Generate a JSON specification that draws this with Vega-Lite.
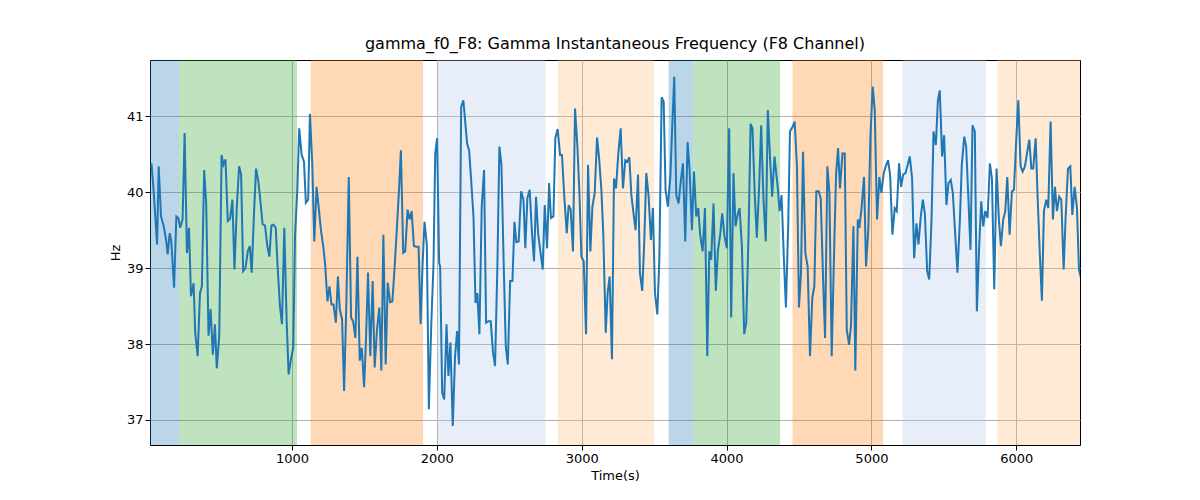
{
  "$schema": "https://vega.github.io/schema/vega-lite/v6.json",
  "width": 930,
  "height": 385,
  "autosize": "none",
  "padding": {"left": 150, "top": 60, "right": 120, "bottom": 55},
  "config": {
    "font": "DejaVu Sans",
    "view": {"stroke": "black", "strokeWidth": 1},
    "axis": {"domain": false, "grid": true, "gridColor": "#b0b0b0", "gridWidth": 1, "zindex": 1,
      "labelFontSize": 13, "labelColor": "black", "tickColor": "black", "tickSize": 5,
      "titleFontSize": 13, "titleFontWeight": "normal", "titleColor": "black"}
  },
  "title": {"text": "gamma_f0_F8: Gamma Instantaneous Frequency (F8 Channel)", "fontSize": 16, "fontWeight": "normal", "offset": 8},
  "layer": [
    {
      "data": {"values": [
        {"start": 20, "end": 220, "kind": "A"},
        {"start": 220, "end": 1035, "kind": "B"},
        {"start": 1130, "end": 1905, "kind": "C"},
        {"start": 2000, "end": 2750, "kind": "D"},
        {"start": 2835, "end": 3500, "kind": "E"},
        {"start": 3600, "end": 3770, "kind": "A"},
        {"start": 3770, "end": 4370, "kind": "B"},
        {"start": 4455, "end": 5080, "kind": "C"},
        {"start": 5215, "end": 5790, "kind": "D"},
        {"start": 5870, "end": 6440, "kind": "E"}
      ]},
      "mark": {"type": "rect", "clip": true},
      "encoding": {
        "x": {"field": "start", "type": "quantitative"},
        "x2": {"field": "end"},
        "color": {"field": "kind", "type": "nominal", "legend": null,
          "scale": {"domain": ["A", "B", "C", "D", "E"],
            "range": ["rgba(31,119,180,0.3)", "rgba(44,160,44,0.3)", "rgba(255,127,14,0.3)", "rgba(174,199,232,0.3)", "rgba(255,187,120,0.3)"]}}
      }
    },
    {
      "data": {"values": [
        {"t":30,"hz":40.38},{"t":46,"hz":39.99},{"t":69,"hz":39.31},{"t":80,"hz":40.34},{"t":96,"hz":39.68},{"t":115,"hz":39.55},{"t":131,"hz":39.37},{"t":142,"hz":39.18},{"t":156,"hz":39.46},{"t":167,"hz":39.35},{"t":186,"hz":38.74},{"t":202,"hz":39.68},{"t":216,"hz":39.66},{"t":229,"hz":39.53},{"t":245,"hz":39.64},{"t":259,"hz":40.78},{"t":275,"hz":39.2},{"t":289,"hz":39.53},{"t":303,"hz":38.63},{"t":321,"hz":38.8},{"t":332,"hz":38.15},{"t":349,"hz":37.84},{"t":365,"hz":38.67},{"t":378,"hz":38.76},{"t":394,"hz":40.29},{"t":408,"hz":39.85},{"t":424,"hz":38.11},{"t":438,"hz":38.46},{"t":454,"hz":37.86},{"t":468,"hz":38.26},{"t":481,"hz":37.68},{"t":498,"hz":38.11},{"t":514,"hz":40.49},{"t":527,"hz":40.36},{"t":541,"hz":40.43},{"t":557,"hz":39.62},{"t":573,"hz":39.65},{"t":589,"hz":39.9},{"t":603,"hz":38.98},{"t":619,"hz":39.79},{"t":635,"hz":40.34},{"t":649,"hz":40.23},{"t":663,"hz":38.96},{"t":679,"hz":39.0},{"t":695,"hz":39.22},{"t":709,"hz":39.29},{"t":722,"hz":38.94},{"t":738,"hz":39.72},{"t":752,"hz":40.31},{"t":768,"hz":40.14},{"t":784,"hz":39.85},{"t":797,"hz":39.58},{"t":814,"hz":39.56},{"t":830,"hz":39.29},{"t":844,"hz":39.15},{"t":858,"hz":39.56},{"t":872,"hz":39.57},{"t":888,"hz":39.53},{"t":901,"hz":39.02},{"t":917,"hz":38.5},{"t":931,"hz":38.26},{"t":947,"hz":39.53},{"t":963,"hz":38.32},{"t":977,"hz":37.6},{"t":993,"hz":37.8},{"t":1009,"hz":37.95},{"t":1021,"hz":39.42},{"t":1037,"hz":40.03},{"t":1050,"hz":40.84},{"t":1067,"hz":40.49},{"t":1083,"hz":40.4},{"t":1096,"hz":39.86},{"t":1112,"hz":39.9},{"t":1124,"hz":41.03},{"t":1140,"hz":40.38},{"t":1154,"hz":39.35},{"t":1170,"hz":40.07},{"t":1186,"hz":39.77},{"t":1200,"hz":39.5},{"t":1216,"hz":39.29},{"t":1229,"hz":39.05},{"t":1245,"hz":38.56},{"t":1259,"hz":38.76},{"t":1273,"hz":38.52},{"t":1287,"hz":38.52},{"t":1303,"hz":38.28},{"t":1317,"hz":38.89},{"t":1330,"hz":38.46},{"t":1346,"hz":38.32},{"t":1360,"hz":37.38},{"t":1376,"hz":38.58},{"t":1392,"hz":40.2},{"t":1408,"hz":38.35},{"t":1422,"hz":38.3},{"t":1438,"hz":38.08},{"t":1452,"hz":39.15},{"t":1468,"hz":37.78},{"t":1482,"hz":37.95},{"t":1498,"hz":37.43},{"t":1511,"hz":38.06},{"t":1525,"hz":38.94},{"t":1541,"hz":37.84},{"t":1557,"hz":38.83},{"t":1571,"hz":37.69},{"t":1587,"hz":38.19},{"t":1603,"hz":38.48},{"t":1617,"hz":37.65},{"t":1631,"hz":39.44},{"t":1647,"hz":37.73},{"t":1661,"hz":38.81},{"t":1677,"hz":38.55},{"t":1693,"hz":38.56},{"t":1709,"hz":39.02},{"t":1725,"hz":39.55},{"t":1739,"hz":40.03},{"t":1752,"hz":40.55},{"t":1768,"hz":39.2},{"t":1782,"hz":39.22},{"t":1798,"hz":39.77},{"t":1812,"hz":39.64},{"t":1826,"hz":39.75},{"t":1842,"hz":39.29},{"t":1858,"hz":39.28},{"t":1874,"hz":39.28},{"t":1888,"hz":38.26},{"t":1901,"hz":39.02},{"t":1915,"hz":39.61},{"t":1931,"hz":39.31},{"t":1945,"hz":37.14},{"t":1961,"hz":38.21},{"t":1977,"hz":39.05},{"t":1989,"hz":40.51},{"t":2002,"hz":40.71},{"t":2016,"hz":39.07},{"t":2023,"hz":39.02},{"t":2037,"hz":37.36},{"t":2051,"hz":37.27},{"t":2067,"hz":38.26},{"t":2080,"hz":37.58},{"t":2094,"hz":38.02},{"t":2110,"hz":36.92},{"t":2126,"hz":37.84},{"t":2140,"hz":38.17},{"t":2153,"hz":37.73},{"t":2168,"hz":41.12},{"t":2183,"hz":41.21},
        {"t":2209,"hz":40.64},{"t":2223,"hz":40.55},{"t":2237,"hz":40.16},{"t":2253,"hz":39.68},{"t":2267,"hz":38.54},{"t":2280,"hz":38.67},{"t":2294,"hz":38.13},{"t":2310,"hz":39.81},{"t":2326,"hz":40.29},{"t":2340,"hz":38.28},{"t":2356,"hz":38.3},{"t":2372,"hz":38.3},{"t":2388,"hz":37.89},{"t":2402,"hz":37.71},{"t":2418,"hz":39.02},{"t":2432,"hz":40.6},{"t":2446,"hz":40.36},{"t":2462,"hz":39.02},{"t":2476,"hz":37.97},{"t":2490,"hz":37.73},{"t":2506,"hz":38.83},{"t":2522,"hz":38.83},{"t":2536,"hz":39.61},{"t":2549,"hz":39.34},{"t":2565,"hz":39.35},{"t":2582,"hz":40.01},{"t":2598,"hz":39.9},{"t":2611,"hz":39.26},{"t":2625,"hz":39.92},{"t":2641,"hz":40.03},{"t":2657,"hz":39.46},{"t":2671,"hz":39.09},{"t":2685,"hz":39.94},{"t":2699,"hz":39.46},{"t":2715,"hz":39.22},{"t":2731,"hz":38.98},{"t":2745,"hz":39.83},{"t":2761,"hz":39.26},{"t":2775,"hz":40.12},{"t":2788,"hz":39.66},{"t":2805,"hz":39.68},{"t":2818,"hz":40.71},{"t":2834,"hz":40.83},{"t":2851,"hz":40.49},{"t":2864,"hz":40.49},{"t":2880,"hz":39.94},{"t":2897,"hz":39.46},{"t":2910,"hz":39.83},{"t":2924,"hz":39.77},{"t":2940,"hz":39.22},{"t":2954,"hz":41.1},{"t":2970,"hz":40.62},{"t":2984,"hz":40.01},{"t":2998,"hz":39.15},{"t":3014,"hz":39.09},{"t":3030,"hz":38.13},{"t":3044,"hz":40.36},{"t":3060,"hz":39.22},{"t":3074,"hz":39.81},{"t":3090,"hz":39.99},{"t":3106,"hz":40.72},{"t":3120,"hz":40.45},{"t":3136,"hz":40.03},{"t":3149,"hz":39.46},{"t":3166,"hz":38.15},{"t":3179,"hz":38.67},{"t":3193,"hz":38.89},{"t":3209,"hz":37.8},{"t":3223,"hz":40.18},{"t":3237,"hz":40.05},{"t":3253,"hz":40.51},{"t":3269,"hz":40.84},{"t":3285,"hz":40.05},{"t":3301,"hz":40.42},{"t":3315,"hz":40.4},{"t":3329,"hz":40.46},{"t":3343,"hz":39.96},{"t":3359,"hz":39.7},{"t":3372,"hz":39.5},{"t":3389,"hz":40.23},{"t":3402,"hz":38.94},{"t":3418,"hz":38.7},{"t":3432,"hz":39.35},{"t":3446,"hz":40.25},{"t":3462,"hz":39.94},{"t":3478,"hz":39.37},{"t":3492,"hz":39.79},{"t":3506,"hz":38.67},{"t":3522,"hz":38.39},{"t":3536,"hz":39.11},{"t":3552,"hz":41.25},{"t":3566,"hz":41.19},{"t":3579,"hz":40.03},{"t":3595,"hz":39.81},{"t":3612,"hz":40.2},{"t":3625,"hz":40.86},{"t":3639,"hz":41.52},{"t":3653,"hz":39.96},{"t":3669,"hz":39.85},{"t":3685,"hz":40.16},{"t":3699,"hz":40.38},{"t":3715,"hz":39.35},{"t":3731,"hz":40.66},{"t":3745,"hz":40.29},{"t":3761,"hz":39.5},{"t":3775,"hz":40.27},{"t":3791,"hz":39.68},{"t":3805,"hz":39.79},{"t":3818,"hz":39.44},{"t":3835,"hz":39.22},{"t":3851,"hz":39.79},{"t":3867,"hz":37.84},{"t":3881,"hz":39.22},{"t":3894,"hz":39.11},{"t":3910,"hz":39.85},{"t":3926,"hz":38.7},{"t":3940,"hz":39.22},{"t":3956,"hz":39.44},{"t":3970,"hz":39.72},{"t":3986,"hz":39.42},{"t":4002,"hz":39.26},{"t":4018,"hz":40.84},{"t":4032,"hz":38.35},{"t":4048,"hz":40.25},{"t":4062,"hz":39.55},{"t":4076,"hz":39.7},{"t":4090,"hz":39.79},{"t":4106,"hz":39.29},{"t":4122,"hz":38.13},{"t":4136,"hz":38.28},{"t":4152,"hz":39.46},{"t":4166,"hz":40.9},{"t":4179,"hz":40.84},{"t":4195,"hz":39.96},{"t":4209,"hz":39.4},{"t":4225,"hz":40.07},{"t":4239,"hz":40.88},{"t":4255,"hz":39.9},{"t":4271,"hz":39.35},{"t":4285,"hz":41.08},{"t":4301,"hz":40.42},{"t":4315,"hz":39.94},{"t":4331,"hz":40.47},
        {"t":4353,"hz":40.07},{"t":4366,"hz":39.75},{"t":4380,"hz":39.96},{"t":4396,"hz":39.11},{"t":4410,"hz":38.48},{"t":4426,"hz":39.59},{"t":4438,"hz":40.8},{"t":4456,"hz":40.86},{"t":4470,"hz":40.93},{"t":4486,"hz":40.34},{"t":4500,"hz":38.48},{"t":4514,"hz":38.94},{"t":4528,"hz":40.53},{"t":4544,"hz":39.2},{"t":4560,"hz":39.02},{"t":4576,"hz":37.84},{"t":4592,"hz":38.61},{"t":4606,"hz":38.76},{"t":4620,"hz":40.01},{"t":4636,"hz":40.01},{"t":4650,"hz":39.92},{"t":4666,"hz":38.89},{"t":4680,"hz":38.08},{"t":4696,"hz":40.34},{"t":4710,"hz":39.99},{"t":4726,"hz":37.84},{"t":4740,"hz":39.02},{"t":4756,"hz":40.23},{"t":4770,"hz":40.58},{"t":4783,"hz":40.05},{"t":4800,"hz":40.51},{"t":4816,"hz":40.51},{"t":4830,"hz":38.19},{"t":4846,"hz":37.99},{"t":4859,"hz":38.24},{"t":4876,"hz":39.55},{"t":4889,"hz":37.65},{"t":4906,"hz":39.64},{"t":4917,"hz":39.53},{"t":4933,"hz":39.81},{"t":4949,"hz":40.2},{"t":4963,"hz":39.02},{"t":4979,"hz":39.53},{"t":4993,"hz":40.73},{"t":5009,"hz":41.39},{"t":5023,"hz":41.08},{"t":5039,"hz":39.64},{"t":5055,"hz":40.2},{"t":5069,"hz":39.99},{"t":5085,"hz":40.25},{"t":5099,"hz":40.34},{"t":5115,"hz":40.42},{"t":5129,"hz":40.23},{"t":5145,"hz":39.44},{"t":5161,"hz":39.79},{"t":5175,"hz":39.75},{"t":5191,"hz":40.38},{"t":5205,"hz":40.07},{"t":5219,"hz":40.23},{"t":5235,"hz":40.25},{"t":5251,"hz":40.36},{"t":5265,"hz":40.47},{"t":5281,"hz":40.18},{"t":5295,"hz":39.13},{"t":5311,"hz":39.59},{"t":5325,"hz":39.31},{"t":5341,"hz":39.68},{"t":5355,"hz":39.9},{"t":5369,"hz":39.72},{"t":5385,"hz":38.96},{"t":5399,"hz":38.85},{"t":5415,"hz":39.64},{"t":5429,"hz":40.8},{"t":5445,"hz":40.62},{"t":5459,"hz":41.21},{"t":5472,"hz":41.34},{"t":5488,"hz":40.47},{"t":5502,"hz":40.75},{"t":5518,"hz":39.83},{"t":5532,"hz":40.12},{"t":5548,"hz":40.16},{"t":5562,"hz":39.99},{"t":5578,"hz":39.46},{"t":5594,"hz":38.94},{"t":5611,"hz":39.64},{"t":5624,"hz":40.36},{"t":5641,"hz":40.73},{"t":5654,"hz":40.6},{"t":5668,"hz":39.99},{"t":5684,"hz":39.24},{"t":5698,"hz":40.88},{"t":5714,"hz":40.8},{"t":5728,"hz":38.43},{"t":5744,"hz":39.29},{"t":5758,"hz":39.88},{"t":5772,"hz":39.55},{"t":5786,"hz":39.75},{"t":5802,"hz":39.66},{"t":5818,"hz":40.38},{"t":5832,"hz":40.18},{"t":5848,"hz":38.72},{"t":5864,"hz":40.31},{"t":5880,"hz":39.64},{"t":5894,"hz":39.29},{"t":5910,"hz":39.64},{"t":5924,"hz":39.75},{"t":5938,"hz":40.2},{"t":5954,"hz":39.44},{"t":5970,"hz":40.01},{"t":5984,"hz":40.03},{"t":5998,"hz":40.62},{"t":6014,"hz":41.21},{"t":6030,"hz":40.34},{"t":6044,"hz":40.27},{"t":6060,"hz":40.34},{"t":6074,"hz":40.51},{"t":6090,"hz":40.69},{"t":6104,"hz":40.31},{"t":6117,"hz":40.31},{"t":6134,"hz":40.71},{"t":6147,"hz":39.96},{"t":6161,"hz":39.26},{"t":6177,"hz":38.57},{"t":6191,"hz":39.75},{"t":6207,"hz":39.9},{"t":6221,"hz":39.79},{"t":6237,"hz":40.93},{"t":6253,"hz":39.64},{"t":6267,"hz":40.07},{"t":6281,"hz":39.75},{"t":6297,"hz":39.94},{"t":6311,"hz":39.9},{"t":6327,"hz":38.98},{"t":6341,"hz":39.68},{"t":6357,"hz":40.31},{"t":6373,"hz":40.34},{"t":6387,"hz":39.7},{"t":6403,"hz":40.07},{"t":6419,"hz":39.79},{"t":6433,"hz":38.98},{"t":6449,"hz":38.85}
      ]},
      "mark": {"type": "line", "color": "#1f77b4", "strokeWidth": 2, "clip": true},
      "encoding": {
        "x": {"field": "t", "type": "quantitative", "title": "Time(s)",
          "scale": {"domain": [20, 6440], "nice": false, "zero": false},
          "axis": {"values": [1000, 2000, 3000, 4000, 5000, 6000], "format": "d"}},
        "y": {"field": "hz", "type": "quantitative", "title": "Hz",
          "scale": {"domain": [36.67, 41.74], "nice": false, "zero": false},
          "axis": {"values": [37, 38, 39, 40, 41], "format": "d"}}
      }
    }
  ]
}
